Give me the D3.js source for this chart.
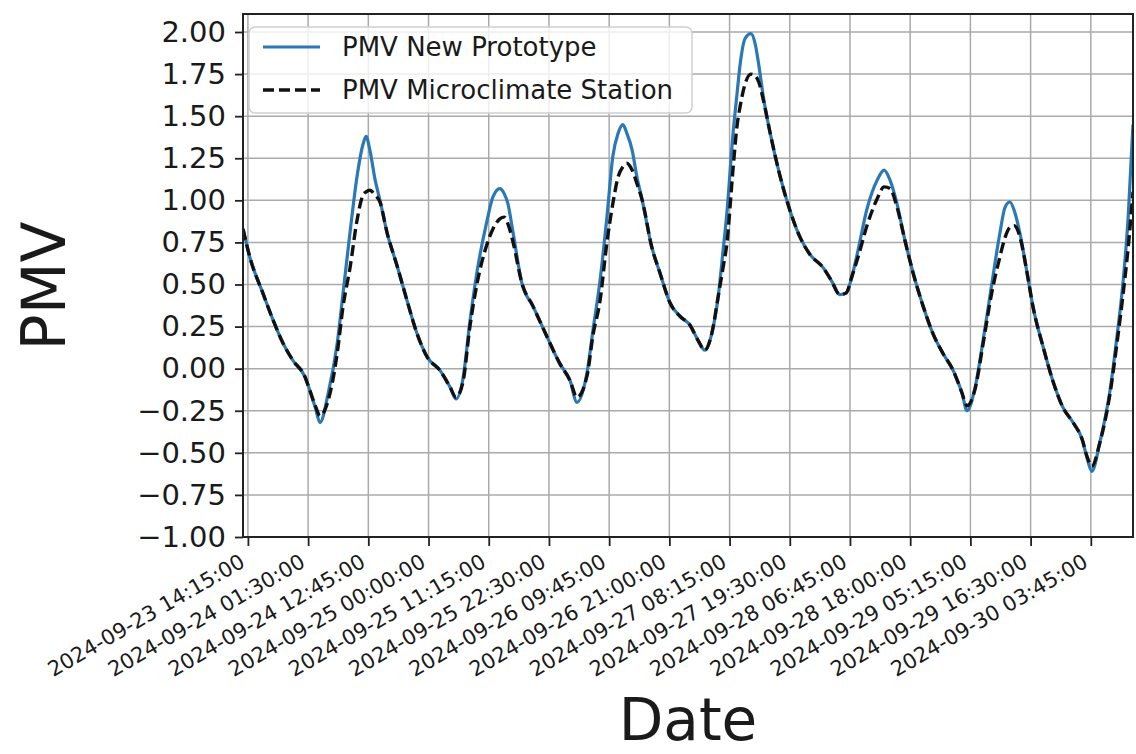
<!DOCTYPE html>
<html>
<head>
<meta charset="utf-8">
<script src="https://cdn.jsdelivr.net/npm/d3@7"></script>
<style>
  body { margin: 0; background: #fff; }
  text { font-family: "DejaVu Sans", sans-serif; fill: #1a1a1a; }
</style>
</head>
<body>
<script>
// PMV comparison (hours after the first sample)
const start = new Date(2024, 8, 23, 13, 20);

const hours = [0, 1.3, 3.7, 5.6, 7.5, 9.3, 11.6, 12.5, 13.5, 14.4, 15.9, 17.6, 18.7, 20.0, 21.3, 22.4, 23.0, 23.7, 24.7, 25.6,
  26.9, 28.8, 30.6, 32.5, 34.4, 36.8, 38.7, 39.8, 41.1, 42.4, 43.7, 45.6, 46.7, 48.0, 48.8, 49.5, 50.4,
  52.1, 54.2, 56.8, 59.2, 61.1, 62.4, 64.3, 65.4, 66.7, 68.0, 69.1, 70.1, 71.0, 71.7, 72.7, 73.6,
  74.6, 76.4, 77.9, 79.8, 81.7, 83.5, 85.0, 86.3, 87.6, 88.8, 89.7, 90.4, 91.6, 92.3, 92.9, 93.8, 94.9, 95.7, 96.4, 97.2,
  98.5, 100.3, 102.2, 104.1, 105.9, 108.4, 110.0, 111.5, 112.7, 113.8, 114.9, 116.6, 118.5, 119.8, 120.9, 122.2,
  123.7, 125.2, 127.1, 128.9, 130.8, 132.7, 134.3, 135.3, 136.8, 138.3, 139.9, 141.4, 142.4, 143.3, 144.1, 145.2,
  146.5, 147.6, 149.5, 151.3, 153.2, 155.1, 156.8, 157.7, 158.6, 160.1, 162.0, 163.3, 164.4, 165.4, 166.3];

const prototype = [0.83, 0.66, 0.45, 0.29, 0.15, 0.05, -0.05, -0.13, -0.23, -0.32, -0.15, 0.15, 0.45, 0.81, 1.14, 1.33, 1.38, 1.30, 1.12, 1.00,
  0.81, 0.61, 0.41, 0.21, 0.07, -0.01, -0.11, -0.18, -0.06, 0.28, 0.57, 0.88, 1.02, 1.07, 1.04, 0.98, 0.82,
  0.51, 0.37, 0.19, 0.03, -0.07, -0.20, -0.02, 0.23, 0.52, 0.90, 1.26, 1.40, 1.45, 1.40, 1.30, 1.14,
  1.00, 0.72, 0.57, 0.39, 0.31, 0.26, 0.17, 0.11, 0.21, 0.43, 0.70, 0.92, 1.41, 1.63, 1.81, 1.96, 1.99, 1.93, 1.80, 1.62,
  1.40, 1.15, 0.94, 0.78, 0.68, 0.60, 0.52, 0.44, 0.45, 0.55, 0.70, 0.95, 1.12, 1.18, 1.12, 0.98,
  0.76, 0.57, 0.37, 0.21, 0.09, -0.01, -0.14, -0.25, -0.11, 0.17, 0.50, 0.80, 0.96, 0.99, 0.94, 0.80,
  0.57, 0.37, 0.13, -0.07, -0.23, -0.32, -0.42, -0.53, -0.61, -0.44, -0.13, 0.19, 0.50, 0.90, 1.45];

const station = [0.83, 0.66, 0.45, 0.29, 0.15, 0.05, -0.05, -0.13, -0.22, -0.28, -0.19, 0.09, 0.37, 0.60, 0.88, 1.03, 1.05, 1.06, 1.03, 0.99,
  0.81, 0.61, 0.41, 0.21, 0.07, -0.01, -0.11, -0.17, -0.08, 0.25, 0.50, 0.74, 0.83, 0.89, 0.90, 0.86, 0.76,
  0.51, 0.37, 0.19, 0.03, -0.07, -0.17, -0.04, 0.20, 0.40, 0.75, 0.98, 1.14, 1.20, 1.22, 1.18, 1.10,
  1.00, 0.72, 0.57, 0.39, 0.31, 0.26, 0.17, 0.11, 0.21, 0.43, 0.60, 0.74, 1.20, 1.44, 1.56, 1.69, 1.75, 1.74, 1.70, 1.60,
  1.40, 1.15, 0.94, 0.78, 0.68, 0.60, 0.52, 0.44, 0.45, 0.55, 0.66, 0.85, 1.01, 1.08, 1.07, 0.96,
  0.76, 0.57, 0.37, 0.21, 0.09, -0.01, -0.14, -0.22, -0.12, 0.15, 0.45, 0.66, 0.78, 0.84, 0.85, 0.78,
  0.57, 0.37, 0.13, -0.07, -0.23, -0.32, -0.42, -0.52, -0.58, -0.44, -0.15, 0.15, 0.43, 0.72, 1.05];

const tickLabels = ["2024-09-23 14:15:00", "2024-09-24 01:30:00", "2024-09-24 12:45:00", "2024-09-25 00:00:00",
  "2024-09-25 11:15:00", "2024-09-25 22:30:00", "2024-09-26 09:45:00", "2024-09-26 21:00:00",
  "2024-09-27 08:15:00", "2024-09-27 19:30:00", "2024-09-28 06:45:00", "2024-09-28 18:00:00",
  "2024-09-29 05:15:00", "2024-09-29 16:30:00", "2024-09-30 03:45:00"];
const yTicks = [-1, -0.75, -0.5, -0.25, 0, 0.25, 0.5, 0.75, 1, 1.25, 1.5, 1.75, 2];

const seriesNames = ["PMV New Prototype", "PMV Microclimate Station"];

const W = 1136, H = 754;
const m = { left: 243, right: 3, top: 14, bottom: 217 };

const parseTick = d3.timeParse("%Y-%m-%d %H:%M:%S");
const times = hours.map(h => new Date(start.getTime() + h * 3600000));
const protoData = times.map((t, i) => ({ t, v: prototype[i] }));
const stationData = times.map((t, i) => ({ t, v: station[i] }));

const x = d3.scaleTime()
    .domain(d3.extent(times))
    .range([m.left, W - m.right]);
const y = d3.scaleLinear()
    .domain([-1.0, 2.107])
    .range([H - m.bottom, m.top]);

const svg = d3.select("body").append("svg")
    .attr("width", W)
    .attr("height", H);

svg.append("defs").append("clipPath").attr("id", "plot")
    .append("rect")
    .attr("x", m.left).attr("y", m.top)
    .attr("width", W - m.right - m.left).attr("height", H - m.bottom - m.top);

const xTickDates = tickLabels.map(parseTick);

// grid
svg.append("g").selectAll("line")
    .data(xTickDates).enter().append("line")
    .attr("x1", d => x(d)).attr("x2", d => x(d))
    .attr("y1", m.top).attr("y2", H - m.bottom)
    .attr("stroke", "#aaa").attr("stroke-width", 1.5);
svg.append("g").selectAll("line")
    .data(yTicks).enter().append("line")
    .attr("x1", m.left).attr("x2", W - m.right)
    .attr("y1", d => y(d)).attr("y2", d => y(d))
    .attr("stroke", "#aaa").attr("stroke-width", 1.5);

// lines
const line = d3.line()
    .x(d => x(d.t))
    .y(d => y(d.v))
    .curve(d3.curveMonotoneX);

const plot = svg.append("g").attr("clip-path", "url(#plot)");
plot.append("path").datum(protoData)
    .attr("d", line)
    .attr("fill", "none")
    .attr("stroke", "#2a78b5")
    .attr("stroke-width", 3.2);
plot.append("path").datum(stationData)
    .attr("d", line)
    .attr("fill", "none")
    .attr("stroke", "#111")
    .attr("stroke-width", 3.4)
    .attr("stroke-dasharray", "11,5");

// y axis
const yAxis = svg.append("g")
    .attr("transform", `translate(${m.left},0)`)
    .call(d3.axisLeft(y).tickValues(yTicks).tickFormat(d3.format(".2f")).tickSize(8).tickPadding(9));
yAxis.select(".domain").remove();
yAxis.selectAll(".tick line").attr("stroke", "#222").attr("stroke-width", 1.8);
yAxis.selectAll(".tick text").style("font-size", "29px").attr("fill", "#1a1a1a");

// x axis
const xAxis = svg.append("g")
    .attr("transform", `translate(0,${H - m.bottom})`)
    .call(d3.axisBottom(x).tickValues(xTickDates).tickFormat(() => "").tickSize(9));
xAxis.select(".domain").remove();
xAxis.selectAll(".tick line").attr("stroke", "#222").attr("stroke-width", 1.8);
xAxis.selectAll(".tick").append("text")
    .attr("transform", "translate(-10,15) rotate(-30)")
    .attr("text-anchor", "end")
    .attr("dy", "0.76em")
    .style("font-size", "21px")
    .text((d, i) => tickLabels[i]);

// frame
svg.append("rect")
    .attr("x", m.left).attr("y", m.top)
    .attr("width", W - m.right - m.left).attr("height", H - m.bottom - m.top)
    .attr("fill", "none").attr("stroke", "#222").attr("stroke-width", 2);

// axis titles
svg.append("text")
    .attr("transform", "translate(65,286) rotate(-90)")
    .attr("text-anchor", "middle")
    .style("font-size", "60px")
    .text("PMV");
svg.append("text")
    .attr("x", (m.left + W - m.right) / 2)
    .attr("y", 740)
    .attr("text-anchor", "middle")
    .style("font-size", "58px")
    .text("Date");

// legend
const legend = svg.append("g");
legend.append("rect")
    .attr("x", 249).attr("y", 27).attr("width", 443).attr("height", 86)
    .attr("rx", 6)
    .attr("fill", "#fff").attr("fill-opacity", 0.8)
    .attr("stroke", "#d0d0d0").attr("stroke-width", 1.5);
const entries = legend.selectAll("g.entry")
    .data(seriesNames).enter().append("g")
    .attr("transform", (d, i) => `translate(0,${47 + i * 43})`);
entries.append("line")
    .attr("x1", 263).attr("x2", 320)
    .attr("stroke", (d, i) => i === 0 ? "#2a78b5" : "#111")
    .attr("stroke-width", (d, i) => i === 0 ? 3.2 : 3.4)
    .attr("stroke-dasharray", (d, i) => i === 0 ? null : "11,5");
entries.append("text")
    .attr("x", 342).attr("y", 9)
    .style("font-size", "26px")
    .text(d => d);
</script>
</body>
</html>
